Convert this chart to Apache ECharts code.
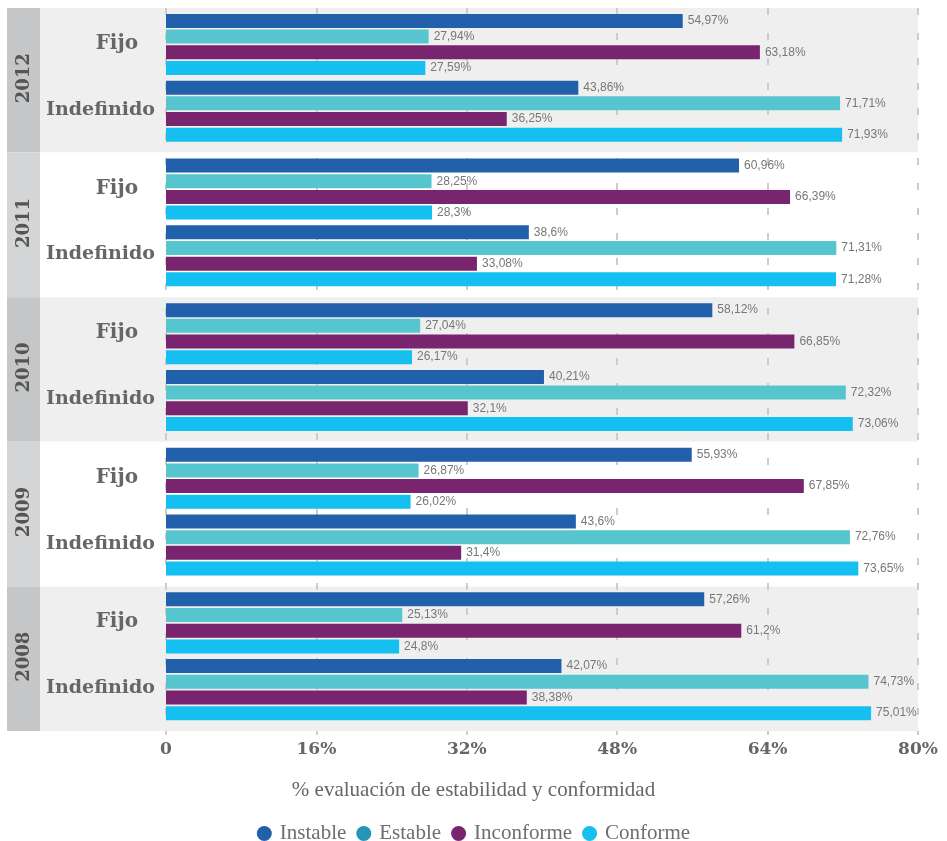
<!DOCTYPE html>
<html>
<head>
<meta charset="utf-8">
<script src="https://cdn.jsdelivr.net/npm/echarts@6/dist/echarts.min.js"></script>
<style>
html,body{margin:0;padding:0;background:#fff;}
#chart{width:947px;height:841px;}
</style>
</head>
<body>
<div id="chart"></div>
<script>
// ---- data ----
const years = ['2012', '2011', '2010', '2009', '2008'];
const seriesNames = ['Instable', 'Estable', 'Inconforme', 'Conforme'];
const groupNames = ['Fijo', 'Indefinido'];
const xTicks = [0, 16, 32, 48, 64, 80];

const fijoInstable   = [54.97, 60.96, 58.12, 55.93, 57.26];
const fijoEstable    = [27.94, 28.25, 27.04, 26.87, 25.13];
const fijoInconforme = [63.18, 66.39, 66.85, 67.85, 61.2];
const fijoConforme   = [27.59, 28.3, 26.17, 26.02, 24.8];

const indefInstable   = [43.86, 38.6, 40.21, 43.6, 42.07];
const indefEstable    = [71.71, 71.31, 72.32, 72.76, 74.73];
const indefInconforme = [36.25, 33.08, 32.1, 31.4, 38.38];
const indefConforme   = [71.93, 71.28, 73.06, 73.65, 75.01];

// ---- styles ----
const barColors = ['#2260ac', '#57c5cd', '#78246e', '#15c0f0'];
const legendColors = ['#2260ac', '#2495b5', '#78246e', '#15c0f0'];
const serifFont = '"DejaVu Serif", serif';
const GRID_TOP = 8, GRID_BOTTOM = 110;

const fijoData = [fijoInstable, fijoEstable, fijoInconforme, fijoConforme];
const indefData = [indefInstable, indefEstable, indefInconforme, indefConforme];

function fmt(v) { return String(v).replace('.', ',') + '%'; }

function barSeries(name, data, color, yIdx) {
  return {
    type: 'bar', name: name, xAxisIndex: 0, yAxisIndex: yIdx,
    data: data, barWidth: 14, barGap: '12%',
    itemStyle: { color: color },
    label: {
      show: true, position: 'right', distance: 5,
      color: '#777', fontSize: 12, fontFamily: '"Liberation Sans", Arial, sans-serif',
      formatter: p => fmt(p.value)
    },
    emphasis: { disabled: true }
  };
}

const series = [];
seriesNames.forEach((n, i) => series.push(barSeries(n, fijoData[i], barColors[i], 0)));
// spacer slots so Fijo bars sit in the upper half of each year band
series.push({ type: 'bar', name: '_spacerF', xAxisIndex: 0, yAxisIndex: 0, data: [], barWidth: 70, barGap: '12%', silent: true });
series.push({ type: 'bar', name: '_spacerI', xAxisIndex: 0, yAxisIndex: 1, data: [], barWidth: 55.2, barGap: '12%', silent: true });
seriesNames.forEach((n, i) => series.push(barSeries(n, indefData[i], barColors[i], 1)));

const hiddenCatAxis = (gridIndex, colors, z) => ({
  type: 'category', gridIndex: gridIndex, data: years, inverse: true, z: z,
  axisLine: { show: false }, axisTick: { show: false }, axisLabel: { show: false },
  splitLine: { show: false },
  splitArea: { show: !!colors, areaStyle: { color: colors || ['#fff'] } }
});

const chart = echarts.init(document.getElementById('chart'), null, { renderer: 'canvas' });

const option = {
  backgroundColor: '#ffffff',
  animation: false,
  title: {
    text: '% evaluación de estabilidad y conformidad',
    left: 'center', top: 775,
    textStyle: { fontFamily: '"Liberation Serif", serif', fontWeight: 'normal', fontSize: 21, color: '#666' }
  },
  legend: {
    top: 818, left: 'center', icon: 'circle', itemWidth: 15, itemHeight: 15, itemGap: 10,
    textStyle: { fontFamily: '"Liberation Serif", serif', fontSize: 21, color: '#6e6e6e', padding: [0, 0, 0, 3] },
    data: seriesNames.map((n, i) => ({ name: n, itemStyle: { color: legendColors[i] } }))
  },
  grid: [
    { left: 166, right: 29, top: GRID_TOP, bottom: GRID_BOTTOM },
    { left: 40, right: 29, top: GRID_TOP, bottom: GRID_BOTTOM },
    { left: 7, width: 33, top: GRID_TOP, bottom: GRID_BOTTOM }
  ],
  xAxis: [
    {
      type: 'value', gridIndex: 0, min: xTicks[0], max: xTicks[xTicks.length - 1], interval: 16, z: 1,
      axisLine: { show: false },
      axisTick: { show: true, length: 4, lineStyle: { color: '#cccccc', width: 2 } },
      axisLabel: {
        margin: 10, color: '#666', fontFamily: serifFont, fontWeight: 'bold', fontSize: 17,
        formatter: v => v === 0 ? '0' : v + '%'
      },
      splitLine: { show: true, lineStyle: { color: '#cccccc', width: 2, type: [7, 18] } }
    },
    { type: 'value', gridIndex: 1, show: false, min: 0, max: 80 },
    { type: 'value', gridIndex: 2, show: false, min: 0, max: 80 }
  ],
  yAxis: [
    {
      type: 'category', gridIndex: 0, data: years, inverse: true,
      axisLine: { show: false }, axisTick: { show: false }, splitLine: { show: false },
      axisLabel: {
        margin: 11, color: '#666',
        formatter: () => '{f|' + groupNames[0] + '}\n{i|' + groupNames[1] + '}',
        rich: {
          f: { fontFamily: serifFont, fontWeight: 'bold', fontSize: 20, color: '#666', lineHeight: 59, padding: [0, 17, 0, 0] },
          i: { fontFamily: serifFont, fontWeight: 'bold', fontSize: 19, color: '#666', lineHeight: 73 }
        }
      }
    },
    { type: 'category', gridIndex: 0, data: years, inverse: true, show: false },
    hiddenCatAxis(1, ['#efefef', '#ffffff'], -1),
    hiddenCatAxis(2, ['#c5c6c8', '#d4d5d7'], -1)
  ],
  series: series
};

chart.setOption(option);

// year labels, placed at the band centres given by the category axis
const yearGraphics = years.map(y => {
  const py = chart.convertToPixel({ yAxisIndex: 0 }, y);
  return {
    type: 'text', x: 24, y: py - 2, rotation: Math.PI / 2, z: 10,
    style: {
      text: y, fill: '#555',
      font: 'bold 18px "DejaVu Serif", serif',
      align: 'center', verticalAlign: 'middle'
    }
  };
});
chart.setOption({ graphic: yearGraphics });
</script>
</body>
</html>
